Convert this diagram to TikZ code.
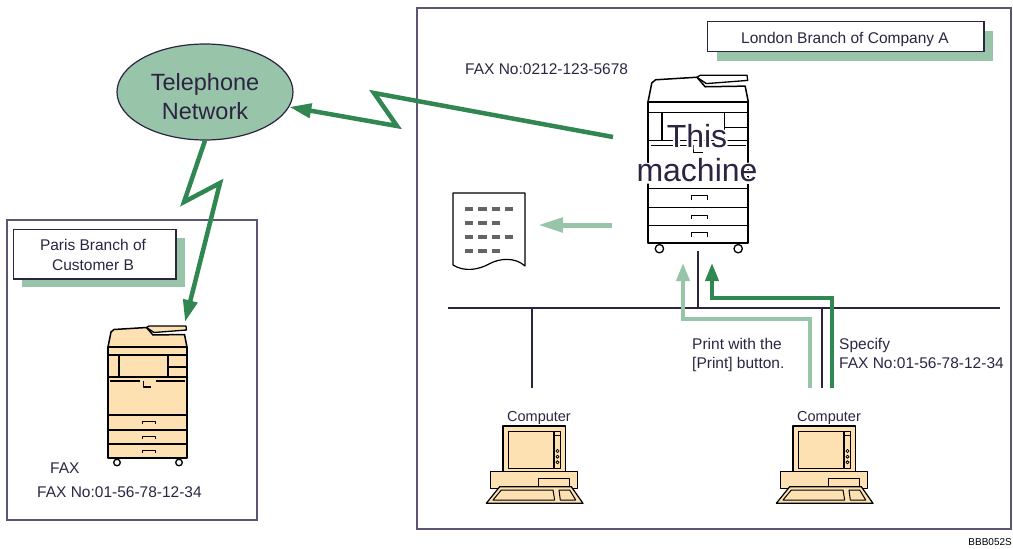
\documentclass[tikz,border=0pt]{standalone}
\usepackage{fontspec}
\setmainfont{Liberation Sans}
\newfontface\halofont{Liberation Sans}[FakeBold=12]
\usetikzlibrary{arrows.meta,shapes.geometric,calc}

\definecolor{txt}{RGB}{45,36,66}
\definecolor{framec}{RGB}{95,85,115}
\definecolor{dgreen}{RGB}{48,135,82}
\definecolor{lgreen}{RGB}{152,196,170}
\definecolor{beige}{RGB}{253,225,178}
\definecolor{keygray}{RGB}{100,100,100}

\tikzset{
  frame/.style={draw=framec, line width=1.2pt},
  tagbox/.style={draw=txt, fill=white, line width=1.3pt, inner sep=0pt},
  tagshadow/.style={fill=lgreen, draw=none},
  lbl/.style={text=txt, inner sep=0pt, font=\fontsize{15.5}{19}\selectfont},
  smalllbl/.style={text=txt, inner sep=0pt, font=\fontsize{14.5}{17}\selectfont},
  bigtxt/.style={text=txt, inner sep=0pt, align=center, font=\fontsize{32}{34}\selectfont},
  halotxt/.style={text=white, inner sep=0pt, align=center, font={\halofont\fontsize{32}{34}\selectfont}},
  wire/.style={draw=txt, line width=2pt},
  faxlink/.style={draw=dgreen, line width=4.5pt, -{Triangle[length=22pt,width=14pt]}},
  sendlink/.style={draw=dgreen, line width=4pt, line join=miter, -{Triangle[length=18pt,width=13pt]}},
  printlink/.style={draw=lgreen, line width=4pt, line join=miter, -{Triangle[length=18pt,width=13pt]}},
  outlink/.style={draw=lgreen, line width=5pt, -{Triangle[length=25pt,width=14pt]}},
}

% copier: origin at the top-left corner of the body, y grows downwards
\newcommand\drawcopier[4]{%
\begin{scope}[shift={(#1,#2)}, scale=#3, line join=round]
  \filldraw[fill=#4, line width=1.5pt] (0,0) -- (3,-15) -- (6,-17.5) -- (38.5,-19.5) -- (45,-12) -- (76.5,-12.5) -- (78,-5) -- (79,0) -- cycle;
  \filldraw[fill=#4, line width=1.3pt] (38.5,-19.5) -- (41,-21) -- (78,-21) -- (78.5,-17) -- (46,-14.5) -- cycle;
  \filldraw[fill=#4, line width=1.8pt] (0,0) rectangle (79,111);
  \draw[line width=1.1pt] (0,8) -- (79,8);
  \draw[line width=1.1pt] (0,30) -- (79,30) (11,8) -- (11,30) (60,8) -- (60,30) (60,20) -- (79,20);
  \draw[line width=1.1pt] (2,34) -- (32,34) (48,34) -- (77,34) (35.5,34) -- (35.5,40) -- (43,40);
  \draw[line width=1.1pt] (0,68) -- (79,68) (0,83) -- (79,83) (0,97) -- (79,97);
  \foreach \tr in {68,83,97}
    \draw[line width=1pt] (34,\tr+9) -- (34,\tr+6) -- (47,\tr+6) -- (47,\tr+9);
  \filldraw[fill=white, line width=1.3pt] (9,115.5) circle (3.3) (71,115.5) circle (3.3);
\end{scope}}

% desktop computer: origin at the top-left corner of the monitor
\newcommand\drawcomputer[2]{%
\begin{scope}[shift={(#1,#2)}, line join=round]
  \filldraw[fill=beige, line width=1.2pt] (-12.3,45.7) rectangle (74.3,62.3);
  \draw[line width=1pt] (35.3,52.3) rectangle (66.3,60.7);
  \filldraw[fill=beige, line width=1.2pt] (0,0) rectangle (62.3,45.7);
  \draw[line width=1pt] (5,5.7) rectangle (50,42.3);
  \draw[line width=1pt] (51.7,5.7) rectangle (57.3,42.3) (51.7,9) -- (57.3,9);
  \foreach \yy in {25,30.7,36.3}
    \draw[line width=0.8pt] (54.5,\yy) circle (1.6);
  \filldraw[fill=beige, line width=1.2pt] (-16.7,77.3) -- (-3.3,60.7) -- (68.3,60.7) -- (80,77.3) -- cycle;
  \draw[line width=1pt] (-10,74) -- (-1.7,64) -- (50,64) -- (51.7,74) -- cycle;
  \draw[line width=1pt] (56,64) -- (66.7,64) -- (72.7,74) -- (57.3,74) -- cycle;
\end{scope}}

\begin{document}
\begin{tikzpicture}[x=1pt,y=-1pt]
\useasboundingbox (0,0) rectangle (1013,549);

% site frames
\draw[frame] (417,8) rectangle (1011,529);
\draw[frame] (7,220) rectangle (257,520);

% site tags
\fill[tagshadow] (716.7,30.7) rectangle (992.7,60.7);
\node[tagbox, minimum width=276.7pt, minimum height=30pt] (londontag) at (845.7,36.7) {};
\node[lbl, anchor=base] (londontxt) at (845,43.3) {London Branch of Company A};

\fill[tagshadow] (21.7,238.3) rectangle (185,287.3);
\node[tagbox, minimum width=162.7pt, minimum height=49.7pt] (paristag) at (94.7,254.2) {};
\node[lbl, anchor=north, align=center, font=\fontsize{15.5}{20}\selectfont] (paristxt) at (93,238.8) {Paris Branch of\\Customer B};

% telephone network
\node[ellipse, draw=txt, fill=lgreen, line width=1.2pt, minimum width=176pt, minimum height=96pt, inner sep=0pt] (tel) at (205,92) {};
\node[text=txt, inner sep=0pt, align=center, font=\fontsize{23.5}{29.5}\selectfont] (teltxt) at (205,96.5) {Telephone\\Network};

\node[lbl, anchor=base west] (faxno) at (465,74) {FAX No:0212-123-5678};

% copiers
\drawcopier{108}{347}{1}{beige}
\drawcopier{648}{102}{1.27}{white}
\node[minimum width=101pt, minimum height=175pt, inner sep=0pt] (machine) at (698,163) {};

% label on this machine, with a white halo behind it
\node[halotxt] (halo) at (697,153.3) {This\\machine};
\node[bigtxt] (mtxt) at (697,153.3) {This\\machine};

% printed sheet
\filldraw[fill=white, draw=black, line width=1.2pt, line join=round] (453,193) -- (525,193) -- (525,266)
  .. controls (515,257) and (500,258) .. (489,264)
  .. controls (478,270) and (464,272) .. (453,265) -- cycle;
\foreach \row/\n in {209.3/4, 222.7/3, 236.7/4, 250.7/3}
  \foreach \c in {1,...,\n}
    \fill[keygray] ({465+(\c-1)*13.35},{\row-2}) rectangle +(8.3,4);

% computers
\drawcomputer{503}{426}
\drawcomputer{793}{426}
\node[smalllbl, anchor=base] (pcAtxt) at (539,421) {Computer};
\node[smalllbl, anchor=base] (pcBtxt) at (829,421) {Computer};

% network wiring
\coordinate (busW) at (448,308);
\coordinate (busE) at (1000,308);
\draw[wire] (busW) -- (busE);
\draw[wire] (machine.south) -- (machine.south |- busW);
\coordinate (tapA) at (532,308);
\coordinate (pcA) at (532,388);
\draw[wire] (tapA) -- (pcA);
\coordinate (tapB) at (822,308);
\coordinate (pcB) at (822,388);
\draw[wire] (tapB) -- (pcB);

% fax transmission
\coordinate (faxout) at (613,137);
\coordinate (zA) at (374,93);
\coordinate (zB) at (397,126);
\draw[faxlink] (faxout) -- (zA) -- (zB) -- (tel);
\coordinate (zC) at (184,202);
\coordinate (zD) at (220,183);
\coordinate (parisin) at (185,322);
\draw[faxlink] (tel.south) -- (zC) -- (zD) -- (parisin);

% print output
\coordinate (printout) at (612,225);
\coordinate (docin) at (538,225);
\draw[outlink] (printout) -- (docin);

% jobs sent from the computer
\coordinate (pr0) at (810,388);
\coordinate (pr1) at (810,319);
\coordinate (pr2) at (683,319);
\coordinate (pr3) at (683,263);
\draw[printlink] (pr0) -- (pr1) -- (pr2) -- (pr3);
\coordinate (sf0) at (832,388);
\coordinate (sf1) at (832,298);
\coordinate (sf2) at (712,298);
\coordinate (sf3) at (712,263);
\draw[sendlink] (sf0) -- (sf1) -- (sf2) -- (sf3);

\node[lbl, anchor=north west, align=left] (printtxt) at (692,337.7) {Print with the\\{[Print]} button.};
\node[lbl, anchor=north west, align=left] (spectxt) at (839,337.7) {Specify\\FAX No:01-56-78-12-34};

% receiving fax
\node[lbl, anchor=base west] (faxA) at (50,473) {FAX};
\node[lbl, anchor=base west] (faxB) at (37,497) {FAX No:01-56-78-12-34};

\node[text=black, inner sep=0pt, font=\fontsize{10}{12}\selectfont, anchor=base east] (code) at (1012,545) {BBB052S};
\end{tikzpicture}
\end{document}
